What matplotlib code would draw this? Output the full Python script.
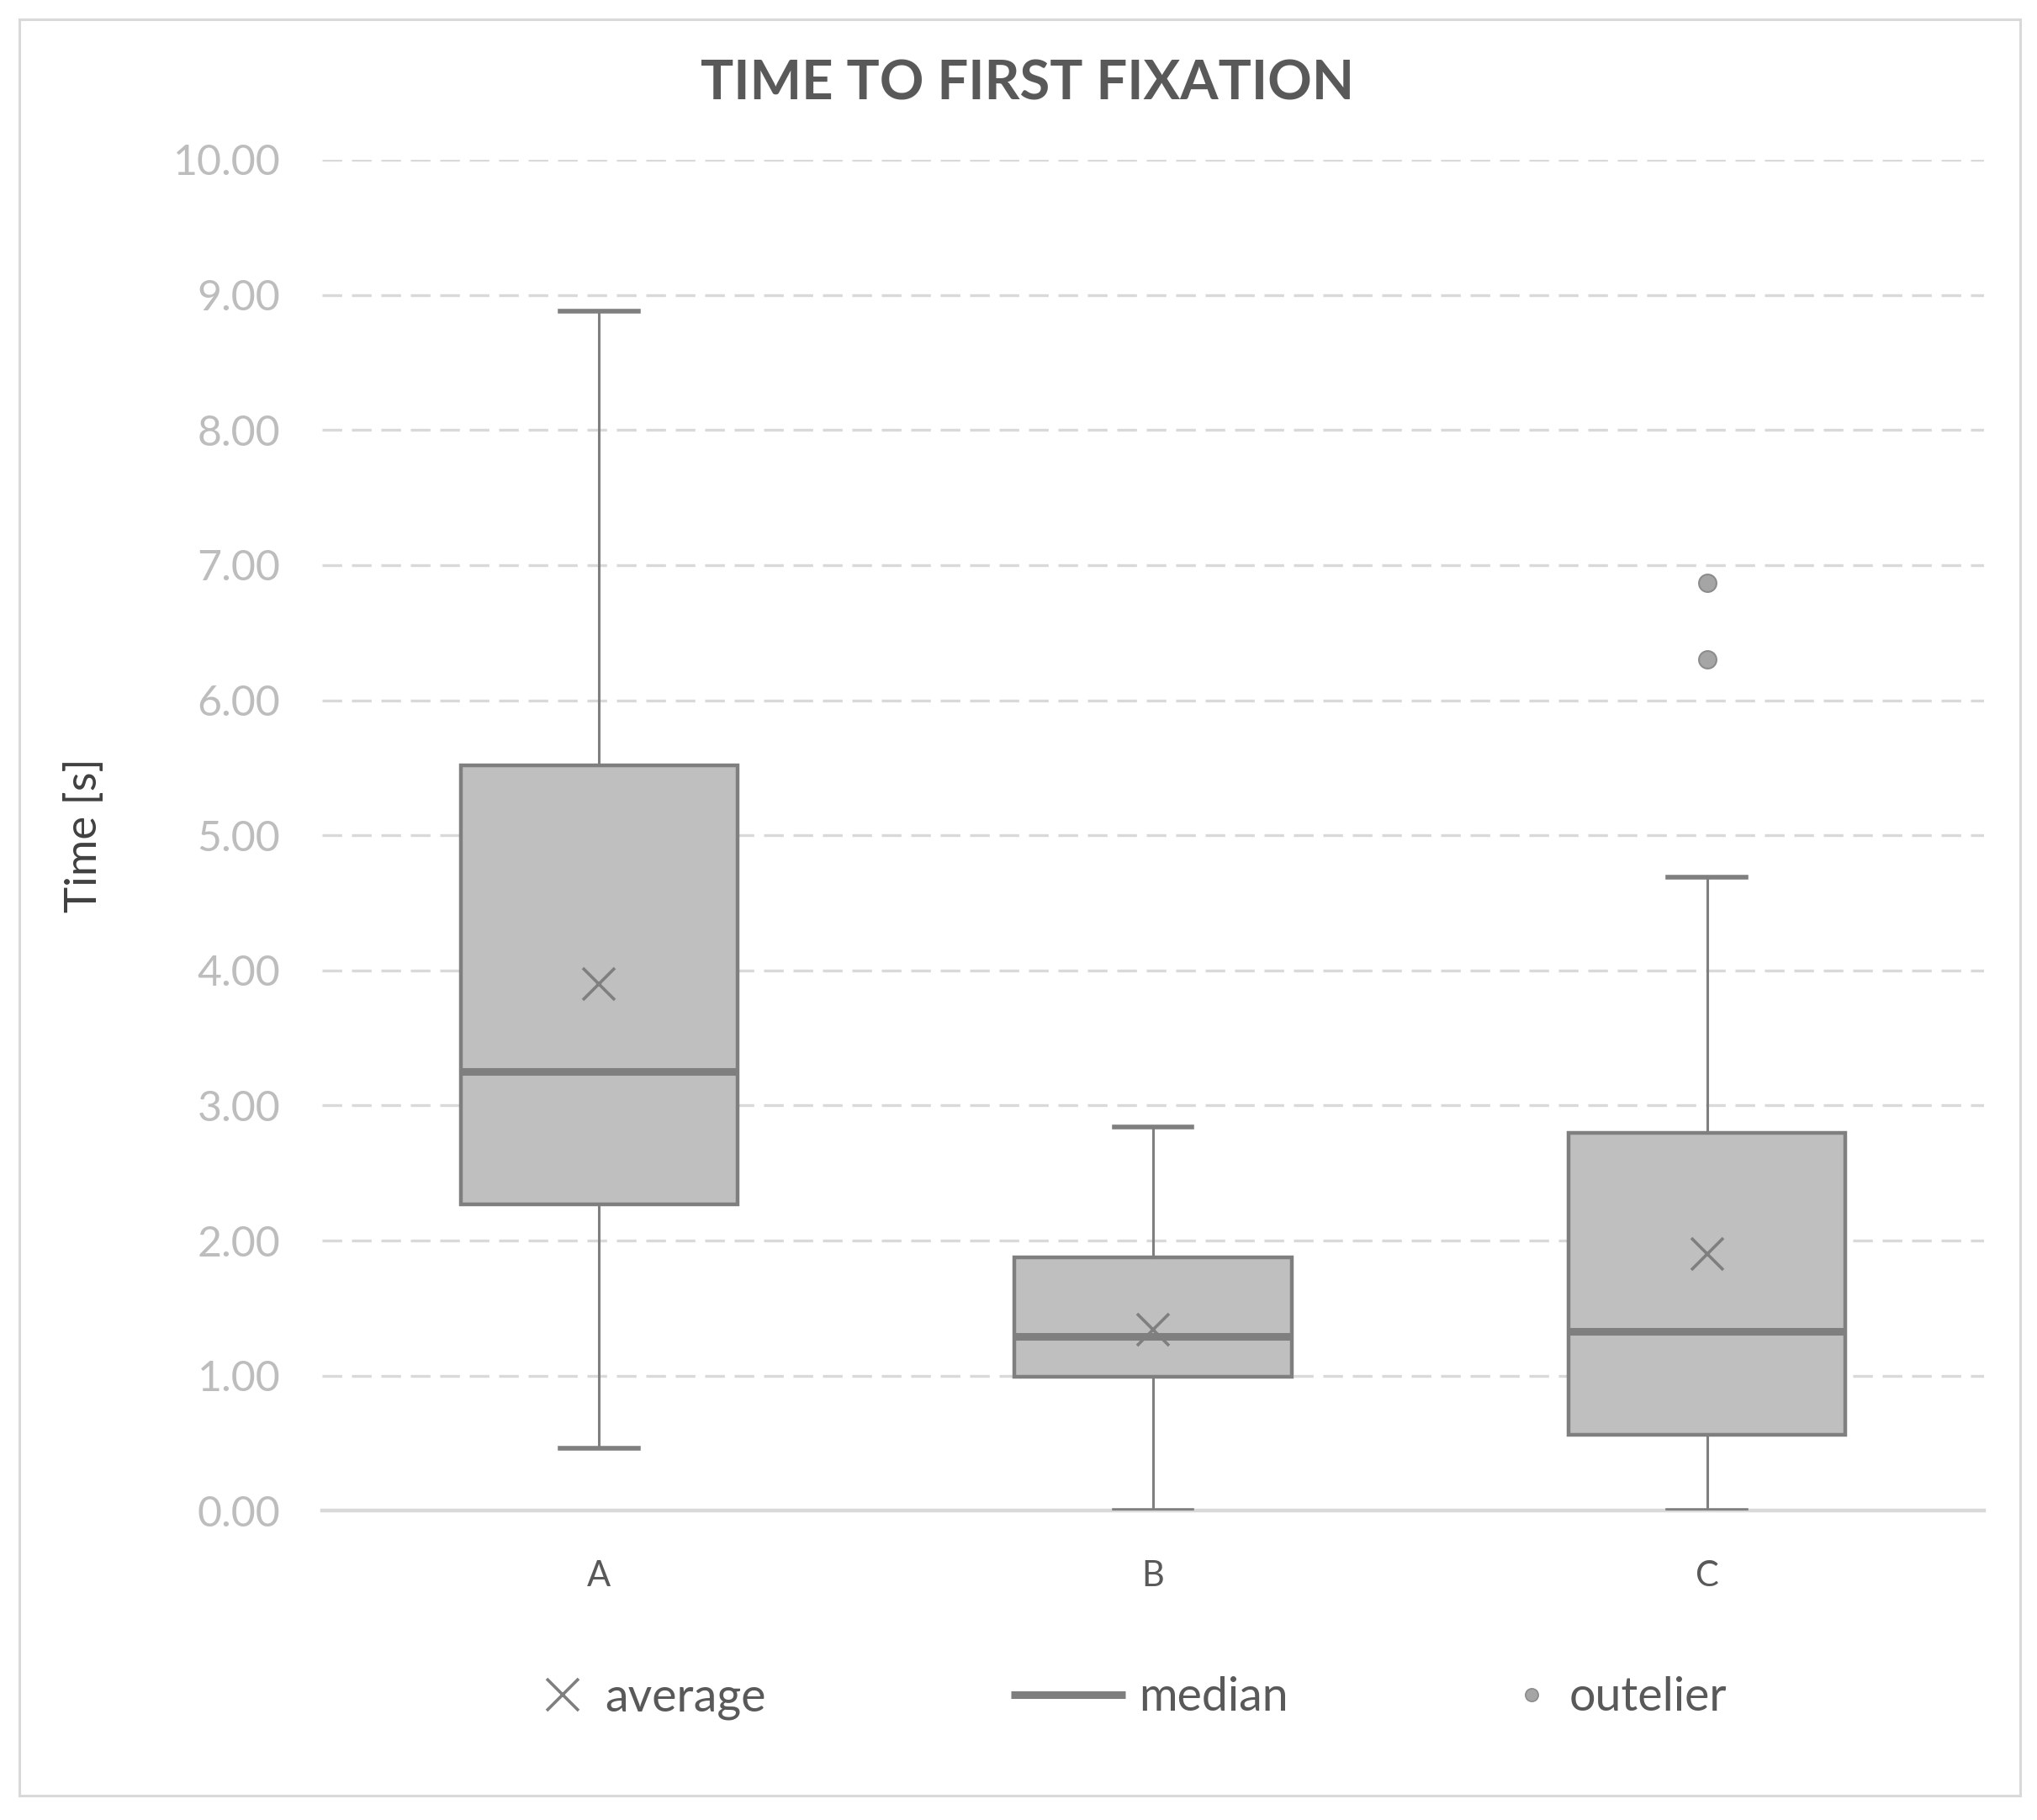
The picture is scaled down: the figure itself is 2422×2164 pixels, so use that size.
import matplotlib
matplotlib.use("Agg")
import matplotlib.pyplot as plt
from matplotlib.lines import Line2D
from matplotlib.patches import Rectangle

# ---- data ----
categories = ["A", "B", "C"]
whisker_low = [0.46, 0.00, 0.00]
q1 = [2.27, 0.99, 0.56]
medians = [3.25, 1.29, 1.33]
q3 = [5.52, 1.875, 2.80]
whisker_high = [8.88, 2.84, 4.69]
means = [3.90, 1.34, 1.90]
outliers = [[], [], [6.87, 6.30]]
yticks = [0, 1, 2, 3, 4, 5, 6, 7, 8, 9, 10]
title = "TIME TO FIRST FIXATION"
ylabel = "Time [s]"
legend_labels = ["average", "median", "outelier"]

plt.rcParams['font.family'] = ['Lato', 'DejaVu Sans']

W, H = 2422, 2164
S = 2422 / 1568  # display-to-full scale used for reading positions
fig = plt.figure(figsize=(W / 100, H / 100), dpi=100)

# outer border
fig.patches.append(Rectangle((23 / W, 29 / H), (2402 - 23) / W, (2135 - 23) / H,
                             transform=fig.transFigure, fill=False,
                             edgecolor="#D9D9D9", linewidth=2.2))

ax = fig.add_axes([0.1582, 0.1699, 0.9739 - 0.1582, 0.9122 - 0.1699])

stats = []
for i, c in enumerate(categories):
    stats.append(dict(label=c, whislo=whisker_low[i], q1=q1[i], med=medians[i],
                      q3=q3[i], whishi=whisker_high[i], mean=means[i],
                      fliers=outliers[i]))

edge = "#7F7F7F"
ax.bxp(stats, positions=range(len(categories)), widths=0.5, patch_artist=True,
       showmeans=True, showfliers=True,
       boxprops=dict(facecolor="#BFBFBF", edgecolor=edge, linewidth=3.2),
       medianprops=dict(color=edge, linewidth=6.5, solid_capstyle="butt"),
       whiskerprops=dict(color=edge, linewidth=2.2),
       capprops=dict(color=edge, linewidth=4.0),
       capwidths=0.14,
       meanprops=dict(marker="x", markeredgecolor=edge, markersize=28,
                      markeredgewidth=2.6),
       flierprops=dict(marker="o", markerfacecolor="#A5A5A5",
                       markeredgecolor="#8C8C8C", markersize=15,
                       markeredgewidth=1.5),
       zorder=3)

ax.set_xlim(-0.5, 2.5)
ax.set_ylim(0, 10)
ax.set_yticks(yticks)
ax.set_yticklabels([f"{v:.2f}" for v in yticks])
ax.yaxis.grid(True, color="#D9D9D9", linewidth=2.4, linestyle=(0, (7, 3.5)))
ax.set_axisbelow(True)
for s in ["top", "right", "left"]:
    ax.spines[s].set_visible(False)
ax.spines["bottom"].set_color("#D9D9D9")
ax.spines["bottom"].set_linewidth(3.2)
ax.spines["bottom"].set_zorder(1)
ax.tick_params(axis="y", length=0, pad=36, labelsize=36, labelcolor="#BDBDBD")
ax.tick_params(axis="x", length=0, pad=42, labelsize=30, labelcolor="#595959")

fig.text(65 * S / W, 1 - 643 * S / H, ylabel, rotation=90,
         ha="center", va="center", fontsize=38, color="#404040")

fig.text(0.5045, 1 - 65 * S / H, title, ha="center", va="center",
         fontsize=47, fontweight="bold", color="#595959")

# legend: three entries placed like the reference
legend_y = 1 - 1307 * S / H
items = [
    (Line2D([], [], linestyle="none", marker="x", markersize=28,
            markeredgewidth=2.6, markeredgecolor=edge), 1.0, 0.4, 415),
    (Line2D([], [], color=edge, linewidth=6.5, solid_capstyle="butt"),
     2.45, 0.3, 778),
    (Line2D([], [], linestyle="none", marker="o", markersize=11,
            markerfacecolor="#A5A5A5", markeredgecolor="#8C8C8C",
            markeredgewidth=1.2), 0.6, 0.5, 1168),
]
for (h, hl, tp, xd), lab in zip(items, legend_labels):
    fig.legend([h], [lab], loc="center left",
               bbox_to_anchor=(xd * S / W, legend_y), frameon=False,
               fontsize=40, labelcolor="#595959", handlelength=hl,
               handletextpad=tp, borderaxespad=0, borderpad=0)

fig.savefig("out.png", dpi=100, facecolor="white")
